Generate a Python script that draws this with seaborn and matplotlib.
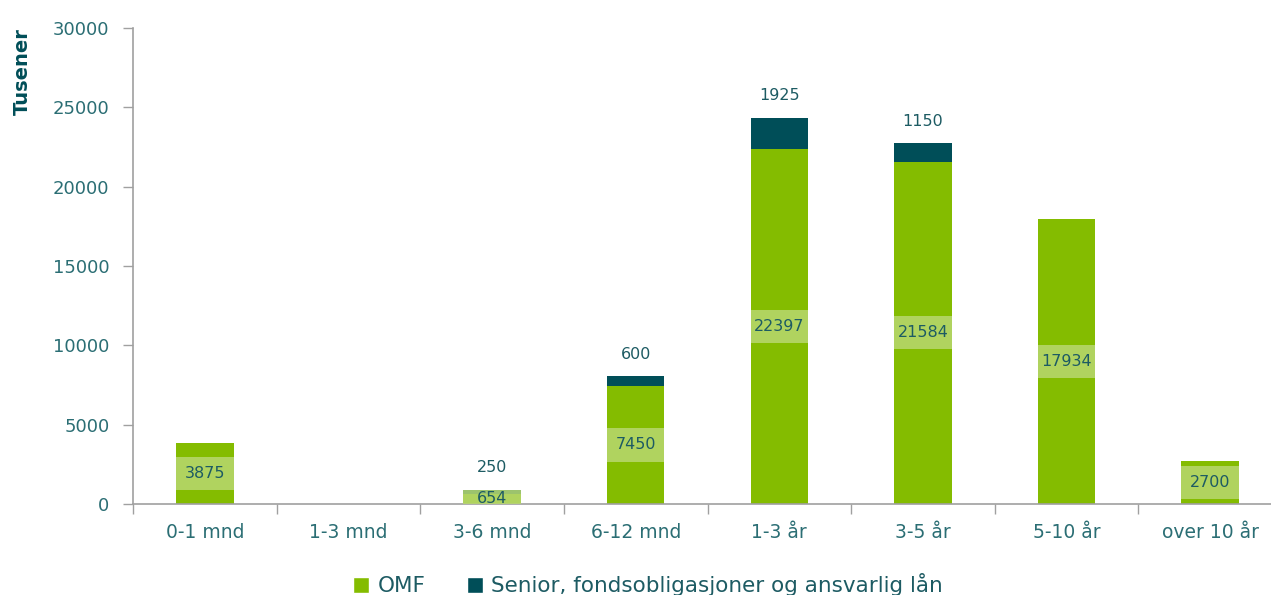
import matplotlib
matplotlib.use("Agg")
import matplotlib.pyplot as plt
import seaborn as sns
import pandas as pd
from matplotlib.patches import Rectangle
from matplotlib.patches import Patch

categories = ["0-1 mnd", "1-3 mnd", "3-6 mnd", "6-12 mnd", "1-3 år", "3-5 år", "5-10 år", "over 10 år"]
omf = [3875, 0, 654, 7450, 22397, 21584, 17934, 2700]
senior = [0, 0, 250, 600, 1925, 1150, 0, 0]
yticks = [0, 5000, 10000, 15000, 20000, 25000, 30000]

GREEN = "#84bc00"
DARK = "#004e58"
BOX = "#b9d871"
TXT = "#1d5b63"
TICK = "#2b6e74"
AX = "#a0a0a0"

sns.set_theme(style="white")
plt.rcParams["font.family"] = ["DejaVu Sans"]

df = pd.DataFrame({"cat": categories, "omf": omf, "senior": senior})

fig = plt.figure(figsize=(12.71, 5.95), dpi=100)
ax = fig.add_axes([133 / 1271, 91 / 595, 1149 / 1271, 476 / 595])

bw = 0.4
sns.barplot(data=df, x="cat", y="omf", order=categories, color=GREEN, width=bw,
            saturation=1, ax=ax, edgecolor="none")
sns.barplot(data=df, x="cat", y="senior", order=categories, color=DARK, width=bw,
            saturation=1, ax=ax, bottom=df["omf"].values, edgecolor="none")

ax.set_ylim(0, 30000)
ax.set_xlim(-0.5, len(categories) - 0.5)

box_h = 2100
for i, (o, s) in enumerate(zip(omf, senior)):
    if o > 0:
        lo = max(o / 2 - box_h / 2, 0)
        hi = min(o / 2 + box_h / 2, o + s)
        rect = Rectangle((i - bw / 2, lo), bw, hi - lo,
                         facecolor=BOX, edgecolor="none", alpha=0.85, zorder=3)
        ax.add_patch(rect)
        ax.text(i, o / 2, f"{o}", ha="center", va="center", fontsize=11.5,
                color=TXT, zorder=4)
    if s > 0:
        ax.annotate(f"{s}", (i, o + s), xytext=(0, 16), textcoords="offset points",
                    ha="center", va="center", fontsize=11.5, color=TXT)

ax.set_yticks(yticks)
ax.set_yticklabels([str(v) for v in yticks])
ax.set_xticks(range(len(categories)))
ax.set_xticklabels(categories)
ax.set_xticks([i - 0.5 for i in range(len(categories) + 1)], minor=True)

ax.tick_params(axis="y", which="major", length=7, width=1, color=AX, direction="out",
               pad=10, labelsize=13, labelcolor=TICK, left=True)
ax.tick_params(axis="x", which="major", length=0, pad=14, labelsize=13.5, labelcolor=TICK)
ax.tick_params(axis="x", which="minor", length=7, width=1, color=AX, direction="out",
               bottom=True)

for sp in ["top", "right"]:
    ax.spines[sp].set_visible(False)
for sp in ["left", "bottom"]:
    ax.spines[sp].set_color(AX)
    ax.spines[sp].set_linewidth(1.2)

ax.set_xlabel("")
ax.set_ylabel("Tusener", loc="top", fontsize=14, fontweight="bold", color=DARK)
ax.yaxis.set_label_coords(-0.088, 1.0)

handles = [Patch(facecolor=GREEN, label="OMF"),
           Patch(facecolor=DARK, label="Senior, fondsobligasjoner og ansvarlig lån")]
leg = fig.legend(handles=handles, loc="center", bbox_to_anchor=(648 / 1271, 10 / 595),
                 ncol=2, frameon=False, fontsize=15.5, handlelength=0.75, handleheight=0.75,
                 handletextpad=0.4, columnspacing=1.9)
for t in leg.get_texts():
    t.set_color(TXT)

fig.savefig("out.png", dpi=100)
